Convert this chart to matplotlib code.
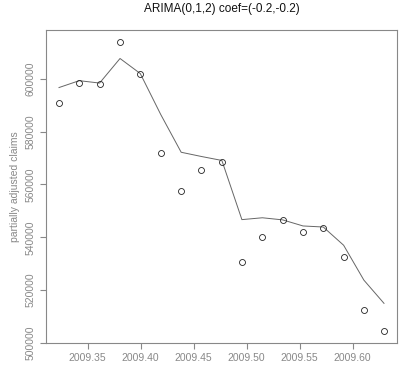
import matplotlib
matplotlib.use("Agg")
from matplotlib import pyplot as plt

# weekly time index (fraction of year)
weeks = [2009.3229, 2009.3420, 2009.3612, 2009.3805, 2009.3996, 2009.4189,
         2009.4382, 2009.4573, 2009.4766, 2009.4955, 2009.5148, 2009.5340,
         2009.5532, 2009.5723, 2009.5915, 2009.6106, 2009.6296]

# observed claims (circles)
observed = [590950, 598600, 598000, 614100, 601800, 571800, 557400, 565400,
            568700, 530700, 540100, 546500, 542000, 543500, 532700, 512300,
            504400]

# ARIMA one-step fitted values (line)
fitted = [596700, 599300, 598400, 607700, 602000, 586500, 572200, 570600,
          569100, 546700, 547400, 546600, 544300, 543900, 537000, 523800,
          515000]

yticks = [500000, 520000, 540000, 560000, 580000, 600000]
xticks = [2009.35, 2009.40, 2009.45, 2009.50, 2009.55, 2009.60]

plt.rcParams['font.family'] = ['Liberation Sans', 'DejaVu Sans']

fig = plt.figure(figsize=(4.0, 3.68), dpi=100)
ax = fig.add_axes([0.115, 0.068, 0.8775, 0.8505])

ax.plot(weeks, fitted, color='#666666', lw=0.7)
ax.plot(weeks, observed, linestyle='none', marker='o', ms=4.3,
        mfc='none', mec='#222222', mew=0.6)

# R-style 4% padding
xr = max(weeks) - min(weeks)
ax.set_xlim(min(weeks) - 0.04 * xr, max(weeks) + 0.04 * xr)
lo = min(observed + fitted)
hi = max(observed + fitted)
yr = hi - lo
ax.set_ylim(lo - 0.04 * yr, hi + 0.04 * yr)

ax.set_xticks(xticks)
ax.set_xticklabels(['%.2f' % v for v in xticks])
ax.set_yticks(yticks)
ax.set_yticklabels([str(v) for v in yticks], rotation=90, va='center')

for s in ax.spines.values():
    s.set_color('#888888')
    s.set_linewidth(0.8)
ax.tick_params(colors='#888888', labelcolor='#888888', labelsize=7.5,
               direction='out', length=4, width=0.8)

ax.set_ylabel("partially adjusted claims", color='#888888', fontsize=7.5,
              labelpad=4)
ax.set_title("ARIMA(0,1,2) coef=(-0.2,-0.2)", fontsize=8.5, color='#111111',
             pad=13)

plt.savefig('out.png', dpi=100)
